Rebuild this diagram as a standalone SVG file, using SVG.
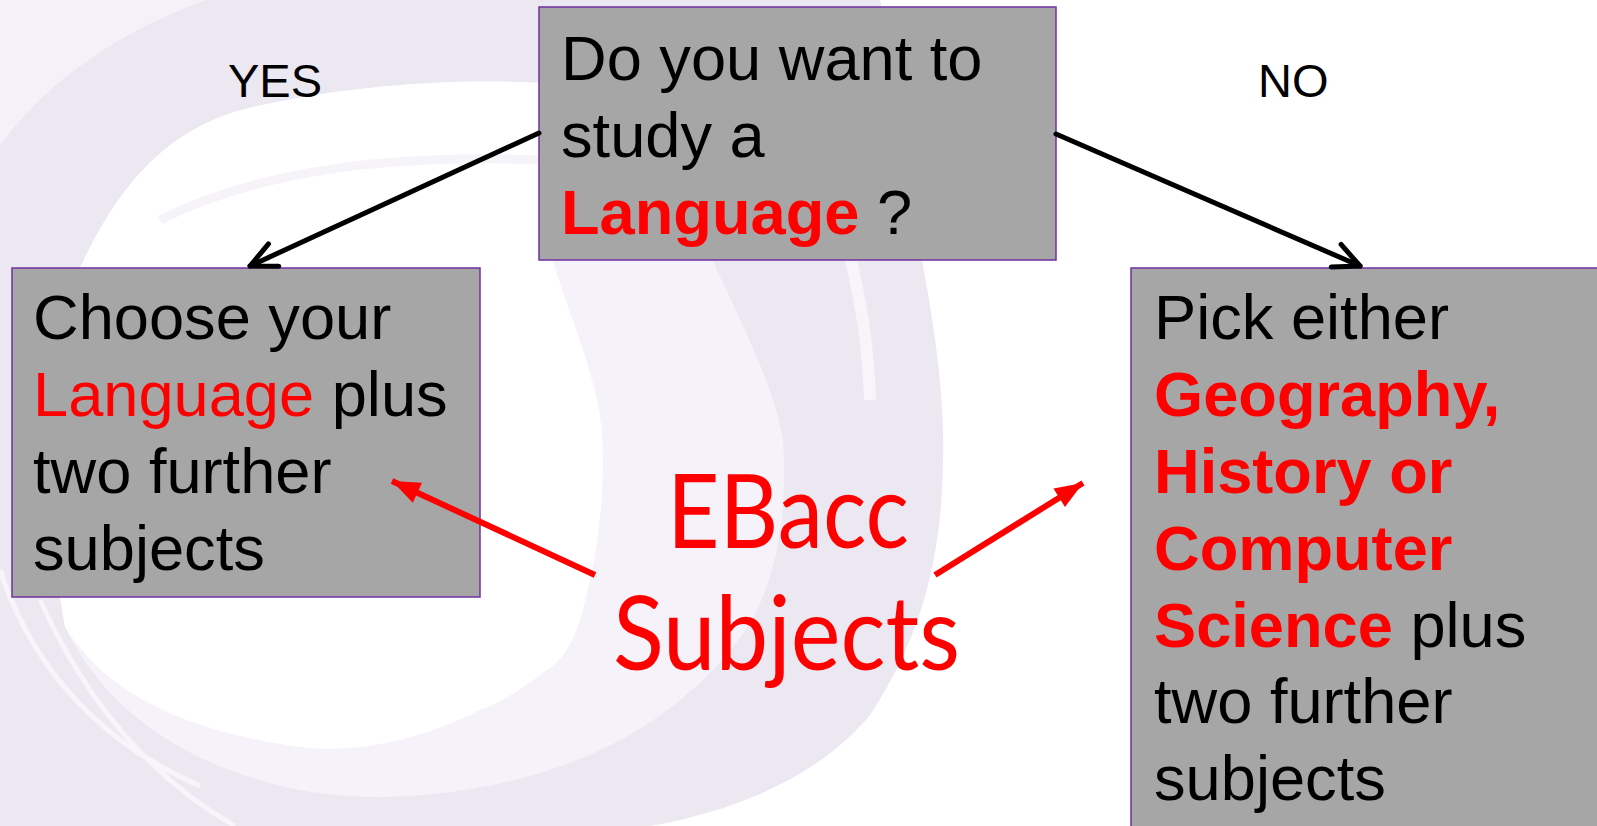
<svg xmlns="http://www.w3.org/2000/svg" width="1597" height="826" viewBox="0 0 1597 826">
<style>
.box{fill:#a6a6a6;stroke:#7030a0;stroke-width:1.5}
.t{font-family:"Liberation Sans",Arial,sans-serif;font-size:63.2px;fill:#000}
.b{font-weight:bold;fill:#ff0000}
.r{fill:#ff0000}
.lbl{font-family:"Liberation Sans",Arial,sans-serif;font-size:47px;fill:#000}
.big{font-family:Lato,"Open Sans",sans-serif;font-size:102px;fill:#ff0000}
.blk{stroke:#000;stroke-width:5;fill:none;stroke-linecap:round}
.red{stroke:#ff0000;stroke-width:6;fill:none}
.streak{fill:none;stroke:#f7f5fa;stroke-width:5}
</style>
<defs>
<marker id="open" markerUnits="userSpaceOnUse" viewBox="-32 -16 36 32" refX="0" refY="0" markerWidth="36" markerHeight="32" orient="auto">
<path d="M-26,-12.3 L0,0 L-26,12.3" fill="none" stroke="#000" stroke-width="5" stroke-linecap="round" stroke-linejoin="round"/>
</marker>
<marker id="solid" markerUnits="userSpaceOnUse" viewBox="-30 -14 32 28" refX="0" refY="0" markerWidth="32" markerHeight="28" orient="auto">
<path d="M-28,-11 L0,0 L-28,11 Z" fill="#ff0000"/>
</marker>
</defs>
<rect width="1597" height="826" fill="#ffffff"/>
<g id="background">
<path d="M0,0 L205,0 Q70,50 0,145 Z" fill="#f4f2f8"/>
<path d="M0,145 Q70,50 205,0 L880,0 C900,90 915,170 922,260 C935,330 945,400 943,460 C942,560 920,640 870,715 C820,775 740,810 650,826 L0,826 Z" fill="#ebe8f2"/>
<path d="M79,270 C120,180 170,130 241,110 C340,85 460,78 540,83 C640,95 690,180 716,268 C745,330 775,390 783,440 C788,520 775,590 741,636 C710,680 650,735 564,765 C480,795 380,805 300,790 C200,770 110,720 65,627 C45,520 55,370 79,270 Z" fill="#f5f3f9"/>
<path d="M79,270 C120,180 170,130 241,110 C340,85 460,78 540,83 L542,220 C560,300 598,370 602,434 C606,500 596,560 581,618 C570,650 560,662 543,673 C520,690 500,703 480,710 C420,740 360,752 310,748 C200,735 110,700 65,627 C45,520 55,370 79,270 Z" fill="#ffffff"/>
<path class="streak" d="M0,570 Q50,720 200,786"/>
<path class="streak" d="M40,600 Q110,755 235,826"/>
<path d="M850,255 C860,300 868,340 870,400" fill="none" stroke="#f7f5fa" stroke-width="12"/>
<path d="M160,220 Q300,150 540,160" fill="none" stroke="#f6f4f9" stroke-width="9"/>
</g>
<g id="node-question">
<rect class="box" x="539" y="7" width="517" height="253"/>
<text class="t" x="561" y="80">Do you want to</text>
<text class="t" x="561" y="157">study a</text>
<text class="t" x="561" y="234"><tspan class="b">Language</tspan> ?</text>
</g>
<g id="node-yes">
<rect class="box" x="12" y="268" width="468" height="329"/>
<text class="t" x="33" y="339">Choose your</text>
<text class="t" x="33" y="416"><tspan class="r">Language</tspan> plus</text>
<text class="t" x="33" y="493">two further</text>
<text class="t" x="33" y="570">subjects</text>
</g>
<g id="node-no">
<rect class="box" x="1131" y="268" width="480" height="600"/>
<text class="t" x="1154" y="339">Pick either</text>
<text class="t b" x="1154" y="416">Geography,</text>
<text class="t b" x="1154" y="493">History or</text>
<text class="t b" x="1154" y="570">Computer</text>
<text class="t" x="1154" y="647"><tspan class="b">Science</tspan> plus</text>
<text class="t" x="1154" y="723">two further</text>
<text class="t" x="1154" y="800">subjects</text>
</g>
<g id="label-yes"><text class="lbl" x="228" y="97">YES</text></g>
<g id="label-no"><text class="lbl" x="1258" y="97">NO</text></g>
<g id="ebacc">
<text class="big" x="667" y="548" textLength="242" lengthAdjust="spacingAndGlyphs">EBacc</text>
<text class="big" x="613" y="670" textLength="347" lengthAdjust="spacingAndGlyphs">Subjects</text>
</g>
<g id="connectors">
<line x1="539" y1="133" x2="250" y2="266" class="blk" marker-end="url(#open)"/>
<line x1="1056" y1="134" x2="1360" y2="266" class="blk" marker-end="url(#open)"/>
<line x1="595" y1="575" x2="392" y2="481" class="red" marker-end="url(#solid)"/>
<line x1="935" y1="575" x2="1083" y2="483" class="red" marker-end="url(#solid)"/>
</g>
</svg>
